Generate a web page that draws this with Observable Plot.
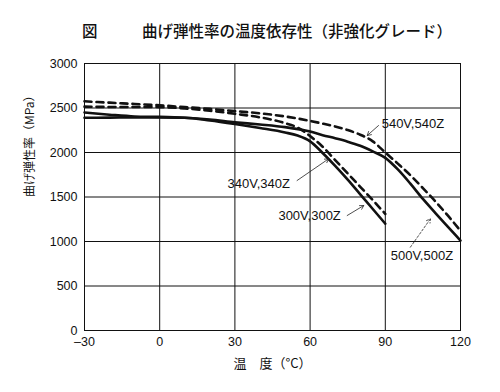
<!DOCTYPE html>
<html>
<head>
<meta charset="utf-8">
<script src="https://cdn.jsdelivr.net/npm/d3@7"></script>
<script src="https://cdn.jsdelivr.net/npm/@observablehq/plot@0.6"></script>
<style>
  html, body { margin: 0; padding: 0; background: #fff; }
  #title { position: relative; width: 500px; height: 50px; font-family: "Noto Sans CJK JP", sans-serif; font-size: 15.5px; color: #111; font-weight: 500; }
  #title span { position: absolute; top: 19px; white-space: nowrap; }
  #chart svg { display: block; }
</style>
</head>
<body>
<div id="title"><span style="left:82px">図</span><span style="left:142px">曲げ弾性率の温度依存性（非強化グレード）</span></div>
<div id="chart"></div>
<script>
// ---- data ----
const xTicks = [-30, 0, 30, 60, 90, 120];
const yTicks = [0, 500, 1000, 1500, 2000, 2500, 3000];

const temps300 = [-30, -20, -10, 0, 10, 20, 30, 40, 50, 55, 60, 65, 70, 75, 80, 85, 90];
const mpa300   = [2390, 2392, 2395, 2395, 2390, 2360, 2320, 2275, 2225, 2190, 2125, 1995, 1850, 1695, 1530, 1365, 1200];

const temps340 = [-30, -20, -10, 0, 10, 20, 30, 40, 50, 55, 60, 65, 70, 75, 80, 85, 90];
const mpa340   = [2515, 2512, 2512, 2510, 2495, 2470, 2435, 2395, 2330, 2280, 2185, 2065, 1915, 1765, 1615, 1465, 1310];

const temps500 = [-30, -20, -10, 0, 10, 20, 30, 40, 50, 60, 65, 70, 75, 80, 85, 90, 95, 100, 105, 110, 115, 120];
const mpa500   = [2450, 2425, 2405, 2400, 2390, 2370, 2340, 2315, 2285, 2235, 2195, 2160, 2122, 2075, 2012, 1940, 1810, 1650, 1478, 1320, 1165, 1010];

const temps540 = [-30, -20, -10, 0, 10, 20, 30, 40, 50, 60, 65, 70, 75, 80, 85, 90, 95, 100, 105, 110, 115, 120];
const mpa540   = [2575, 2560, 2545, 2530, 2510, 2490, 2465, 2440, 2405, 2355, 2325, 2292, 2252, 2200, 2125, 2000, 1875, 1745, 1600, 1450, 1290, 1120];

const labelNames = ["540V,540Z", "340V,340Z", "300V,300Z", "500V,500Z"];
const labelX     = [101.0, 39.5, 59.8, 104.6];
const labelY     = [2326, 1648, 1292, 843];
const arrowFromX = [87.3, 54.8, 74.8, 100.0];
const arrowFromY = [2303, 1685, 1292, 936];
const arrowToX   = [82.8, 67.4, 81.4, 108.0];
const arrowToY   = [2191, 1929, 1404, 1255];

// ---- build tables ----
const mk = (name, t, v) => t.map((x, i) => ({series: name, temp: x, mpa: v[i]}));
const solidData = [...mk("300V,300Z", temps300, mpa300), ...mk("500V,500Z", temps500, mpa500)];
const dashData  = [...mk("340V,340Z", temps340, mpa340), ...mk("540V,540Z", temps540, mpa540)];
const labels = labelNames.map((n, i) => ({name: n, x: labelX[i], y: labelY[i],
  x1: arrowFromX[i], y1: arrowFromY[i], x2: arrowToX[i], y2: arrowToY[i]}));

const FONT = '"Liberation Sans", Arial, "Noto Sans CJK JP", sans-serif';

const chart = Plot.plot({
  width: 500,
  height: 342,
  marginTop: 13,
  marginBottom: 62,
  marginLeft: 84,
  marginRight: 40,
  style: {fontFamily: FONT, fontSize: "12.5px", color: "#111", background: "#fff"},
  x: {domain: [-30, 120], ticks: xTicks},
  y: {domain: [0, 3000], ticks: yTicks},
  marks: [
    Plot.gridX(xTicks, {stroke: "#111", strokeOpacity: 1, strokeWidth: 1}),
    Plot.gridY(yTicks, {stroke: "#111", strokeOpacity: 1, strokeWidth: 1}),
    Plot.frame({stroke: "#111", strokeWidth: 1}),
    Plot.axisX(xTicks, {tickSize: 0, tickPadding: 7, label: null, fontSize: 12.5, tickFormat: d => d < 0 ? "\u2013" + Math.abs(d) : String(d)}),
    Plot.axisY(yTicks, {tickSize: 0, tickPadding: 7, label: null, fontSize: 12.5, tickFormat: d => String(d)}),
    Plot.line(solidData, {x: "temp", y: "mpa", z: "series", stroke: "#111", strokeWidth: 2.6, curve: "monotone-x"}),
    Plot.line(dashData, {x: "temp", y: "mpa", z: "series", stroke: "#111", strokeWidth: 2.6, strokeDasharray: "7,5", curve: "monotone-x"}),
    Plot.arrow(labels.slice(0, 3), {x1: "x1", y1: "y1", x2: "x2", y2: "y2", stroke: "#222", strokeWidth: 0.8, headLength: 8}),
    Plot.arrow(labels.slice(3), {x1: "x1", y1: "y1", x2: "x2", y2: "y2", stroke: "#222", strokeWidth: 0.8, headLength: 8, strokeDasharray: "2,2"}),
    Plot.text(labels, {x: "x", y: "y", text: "name", fontSize: 13, fill: "#111"}),
    Plot.text(["温　度（°C）"], {frameAnchor: "bottom", dy: 37, text: d => d, fontSize: 13, fontFamily: '"Noto Sans CJK JP", sans-serif'}),
    Plot.text(["曲げ弾性率（MPa）"], {frameAnchor: "left", dx: -54, rotate: -90, text: d => d, fontSize: 12, fontFamily: '"Noto Sans CJK JP", sans-serif'})
  ]
});
document.getElementById("chart").appendChild(chart);
</script>
</body>
</html>
